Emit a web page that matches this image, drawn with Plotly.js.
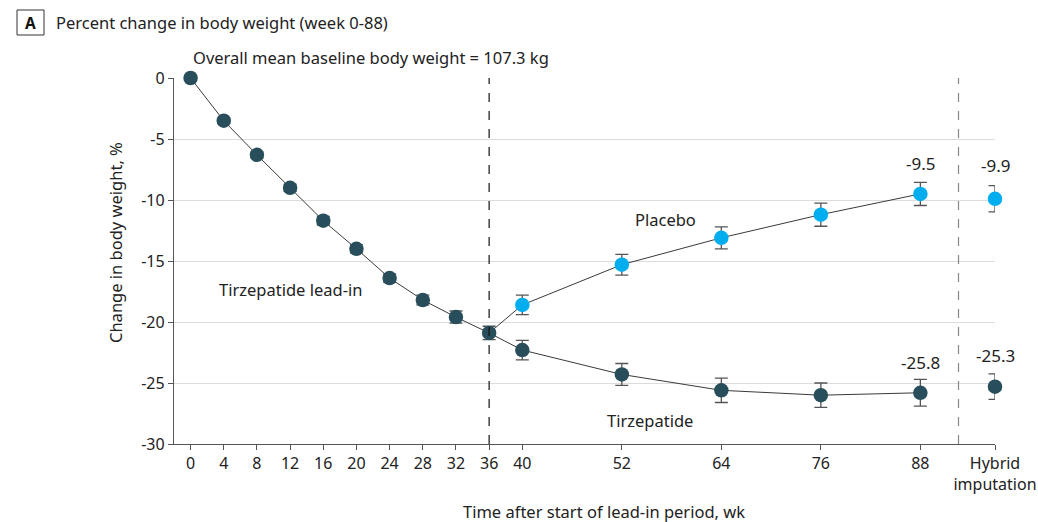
<!DOCTYPE html>
<html>
<head>
<meta charset="utf-8">
<script src="https://cdn.plot.ly/plotly-3.0.1.min.js"></script>
<style>
  html, body { margin: 0; padding: 0; background: #fff; }
  #chart { width: 1038px; height: 522px; }
</style>
</head>
<body>
<div id="chart"></div>
<script>
// Weeks on the study time axis; hybrid imputation sits at its own slot
const leadInWeeks = [0, 4, 8, 12, 16, 20, 24, 28, 32, 36];
const leadInPct   = [0, -3.5, -6.3, -9.0, -11.7, -14.0, -16.4, -18.2, -19.6, -20.9];
const leadInErr   = [0, 0.2, 0.25, 0.3, 0.35, 0.35, 0.35, 0.4, 0.5, 0.55];

const randWeeks   = [40, 52, 64, 76, 88];
const tirzPct     = [-22.3, -24.3, -25.6, -26.0, -25.8];
const tirzErr     = [0.8, 0.9, 1.0, 1.0, 1.1];
const placeboPct  = [-18.6, -15.3, -13.1, -11.2, -9.5];
const placeboErr  = [0.8, 0.85, 0.9, 0.95, 0.95];

const hybridX       = 97;
const hybridTirz    = -25.3;
const hybridTirzErr = 1.05;
const hybridPlac    = -9.9;
const hybridPlacErr = 1.08;

const xTickVals  = [0, 4, 8, 12, 16, 20, 24, 28, 32, 36, 40, 52, 64, 76, 88, hybridX];
const xTickText  = ['0', '4', '8', '12', '16', '20', '24', '28', '32', '36', '40', '52', '64', '76', '88', 'Hybrid<br>imputation'];
const yTickVals  = [0, -5, -10, -15, -20, -25, -30];
const yTickText  = ['0', '-5', '-10', '-15', '-20', '-25', '-30'];

const DARK  = '#284e5b';
const LIGHT = '#00aeef';
const LINE  = '#3a3a3a';
const ERRC  = '#555555';
const FONT  = 'Noto Sans, sans-serif';

// plot area in pixels
const L = 174, R = 995, T = 78, B = 444;
const px = v => (v - L) / (R - L);
const py = v => (B - v) / (B - T);

const errStyle = { type: 'data', visible: true, color: ERRC, thickness: 1.3, width: 6.5 };
const markerStyle = c => ({ color: c, size: 14.5, line: { width: 0 } });

const last = arr => arr[arr.length - 1];

const traces = [
  // connecting lines
  { x: leadInWeeks, y: leadInPct, mode: 'lines', line: { color: LINE, width: 1 }, hoverinfo: 'skip' },
  { x: [last(leadInWeeks)].concat(randWeeks), y: [last(leadInPct)].concat(tirzPct),
    mode: 'lines', line: { color: LINE, width: 1 }, hoverinfo: 'skip' },
  { x: [last(leadInWeeks)].concat(randWeeks), y: [last(leadInPct)].concat(placeboPct),
    mode: 'lines', line: { color: LINE, width: 1 }, hoverinfo: 'skip' },
  // markers with error bars
  { x: leadInWeeks, y: leadInPct, mode: 'markers', marker: markerStyle(DARK),
    error_y: Object.assign({ array: leadInErr }, errStyle), cliponaxis: false },
  { x: randWeeks.concat([hybridX]), y: tirzPct.concat([hybridTirz]), mode: 'markers', marker: markerStyle(DARK),
    error_y: Object.assign({ array: tirzErr.concat([hybridTirzErr]) }, errStyle), cliponaxis: false },
  { x: randWeeks.concat([hybridX]), y: placeboPct.concat([hybridPlac]), mode: 'markers', marker: markerStyle(LIGHT),
    error_y: Object.assign({ array: placeboErr.concat([hybridPlacErr]) }, errStyle), cliponaxis: false }
];

const textFont = { family: FONT, size: 16.5, color: '#222' };

const valueLabel = (x, y, shift) => ({
  x: x, y: y, xref: 'x', yref: 'y', text: y.toFixed(1), showarrow: false,
  yshift: shift, font: { family: FONT, size: 17, color: '#222' }
});

const layout = {
  width: 1038, height: 522,
  margin: { l: L, r: 1038 - R, t: T, b: 522 - B },
  paper_bgcolor: '#fff', plot_bgcolor: '#fff',
  showlegend: false,
  font: textFont,
  xaxis: {
    range: [-2, 97], tickvals: xTickVals, ticktext: xTickText,
    showgrid: false, zeroline: false, showline: true, linecolor: '#555', linewidth: 1.2,
    ticks: 'outside', ticklen: 5, tickcolor: '#555',
    tickfont: { family: FONT, size: 16, color: '#222' }
  },
  yaxis: {
    range: [-30, 0], tickvals: yTickVals, ticktext: yTickText,
    showgrid: true, gridcolor: '#dcdcdc', gridwidth: 1, zeroline: false,
    showline: true, linecolor: '#555', linewidth: 1.2,
    ticks: 'outside', ticklen: 5, tickcolor: '#555',
    tickfont: { family: FONT, size: 16, color: '#222' }
  },
  shapes: [
    { type: 'line', xref: 'x', yref: 'y', x0: 36, x1: 36, y0: -30, y1: 0,
      line: { color: '#111', width: 1.2, dash: 'dash' } },
    { type: 'line', xref: 'x', yref: 'y', x0: 92.6, x1: 92.6, y0: -30, y1: 0,
      line: { color: '#888', width: 1.2, dash: 'dash' } },
    { type: 'rect', xref: 'paper', yref: 'paper', x0: px(17), x1: px(44), y0: py(10), y1: py(35),
      line: { color: '#333', width: 1 }, fillcolor: '#fff' }
  ],
  annotations: [
    { xref: 'paper', yref: 'paper', x: px(30.5), y: py(22.5), text: '<b>A</b>', showarrow: false,
      xanchor: 'center', yanchor: 'middle', font: { family: FONT, size: 15.5, color: '#111' } },
    { xref: 'paper', yref: 'paper', x: px(54), y: py(22.5), text: 'Percent change in body weight (week 0-88)',
      showarrow: false, xanchor: 'left', yanchor: 'middle', font: textFont },
    { xref: 'paper', yref: 'paper', x: px(371), y: py(57), text: 'Overall mean baseline body weight = 107.3 kg',
      showarrow: false, xanchor: 'center', yanchor: 'middle', font: textFont },
    { xref: 'paper', yref: 'paper', x: px(604), y: py(511), text: 'Time after start of lead-in period, wk',
      showarrow: false, xanchor: 'center', yanchor: 'middle', font: textFont },
    { xref: 'paper', yref: 'paper', x: px(116), y: py(243), text: 'Change in body weight, %', textangle: -90,
      showarrow: false, xanchor: 'center', yanchor: 'middle', font: textFont },
    { xref: 'paper', yref: 'paper', x: px(290), y: py(289), text: 'Tirzepatide lead-in',
      showarrow: false, xanchor: 'center', yanchor: 'middle', font: textFont },
    { xref: 'paper', yref: 'paper', x: px(665), y: py(219), text: 'Placebo',
      showarrow: false, xanchor: 'center', yanchor: 'middle', font: textFont },
    { xref: 'paper', yref: 'paper', x: px(650), y: py(420), text: 'Tirzepatide',
      showarrow: false, xanchor: 'center', yanchor: 'middle', font: textFont },
    valueLabel(last(randWeeks), last(placeboPct), 30),
    valueLabel(hybridX, hybridPlac, 33),
    valueLabel(last(randWeeks), last(tirzPct), 30),
    valueLabel(hybridX, hybridTirz, 31)
  ]
};

Plotly.newPlot('chart', traces, layout, { staticPlot: true, displayModeBar: false });
</script>
</body>
</html>
